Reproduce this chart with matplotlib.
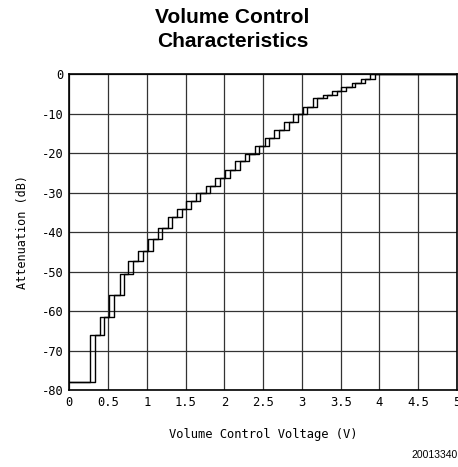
import matplotlib
matplotlib.use('Agg')
import matplotlib.pyplot as plt

# switching thresholds of the DC volume control (V), falling and rising
v_down = [0.27, 0.40, 0.51, 0.65, 0.76, 0.88, 1.01, 1.14, 1.27, 1.39,
          1.51, 1.63, 1.76, 1.88, 2.01, 2.14, 2.26, 2.39, 2.52, 2.64,
          2.77, 2.89, 3.01, 3.14, 3.27, 3.39, 3.51, 3.64, 3.76, 3.88]
v_up = [0.33, 0.45, 0.58, 0.70, 0.82, 0.95, 1.08, 1.20, 1.33, 1.45,
        1.57, 1.69, 1.82, 1.94, 2.07, 2.20, 2.32, 2.45, 2.57, 2.70,
        2.83, 2.95, 3.07, 3.20, 3.32, 3.45, 3.57, 3.69, 3.82, 3.94]

# attenuation of each step (dB)
atten = [-78, -66, -61.5, -56, -50.5, -47.3, -44.7, -41.8, -38.8, -36.2,
         -34.1, -32.1, -30.1, -28.2, -26.2, -24.2, -22, -20.1, -18.1, -16.2,
         -14.1, -12.1, -10, -8.2, -6, -5.1, -4.1, -3.1, -2.2, -1.2, 0]

x_ticks = [0, 0.5, 1, 1.5, 2, 2.5, 3, 3.5, 4, 4.5, 5]
x_ticklabels = ['0', '0.5', '1', '1.5', '2', '2.5', '3', '3.5', '4', '4.5', '5']
y_ticks = [0, -10, -20, -30, -40, -50, -60, -70, -80]
y_ticklabels = ['0', '-10', '-20', '-30', '-40', '-50', '-60', '-70', '-80']

mono = 'DejaVu Sans Mono'

fig = plt.figure(figsize=(4.58, 4.67), dpi=100)
ax = fig.add_axes([0.1513, 0.1649, 0.8465, 0.6756])

for thr in (v_down, v_up):
    xs = [0] + thr + [5]
    ys = atten + [atten[-1]]
    ax.step(xs, ys, where='post', color='black', lw=1.0)

ax.set_xlim(0, 5)
ax.set_ylim(-80, 0)
ax.set_xticks(x_ticks)
ax.set_xticklabels(x_ticklabels, family=mono, fontsize=8.7)
ax.set_yticks(y_ticks)
ax.set_yticklabels(y_ticklabels, family=mono, fontsize=8.7)
ax.grid(True, color='#333333', lw=0.9)
ax.tick_params(length=0, pad=4)
for s in ax.spines.values():
    s.set_linewidth(1.2)

ax.set_xlabel('Volume Control Voltage (V)', family=mono, fontsize=8.7, labelpad=14)
ax.set_ylabel('Attenuation (dB)', family=mono, fontsize=8.5, labelpad=9)

fig.text(0.508, 0.937, 'Volume Control\nCharacteristics', ha='center', va='center',
         fontsize=15, fontweight='bold', family='Liberation Sans', linespacing=1.35)
fig.text(0.999, 0.025, '20013340', ha='right', va='center', fontsize=7.5,
         family='Liberation Sans')

fig.savefig('out.png', dpi=100)
